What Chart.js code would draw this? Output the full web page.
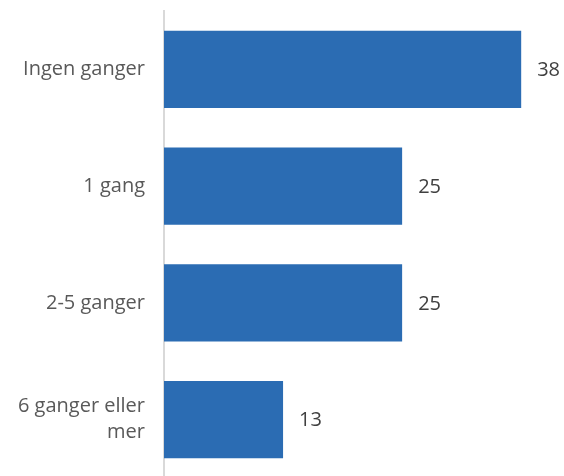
<!DOCTYPE html>
<html>
<head>
<meta charset="utf-8">
<script src="https://cdn.jsdelivr.net/npm/chart.js@4.4.0/dist/chart.umd.min.js"></script>
<style>
  html, body { margin: 0; padding: 0; background: #ffffff; overflow: hidden; }
  #wrap { width: 564px; height: 476px; overflow: hidden; }
</style>
</head>
<body>
<div id="wrap"><canvas id="c" width="564" height="478"></canvas></div>
<script>
// categories and values (shares in percent, labels are rounded)
const categories = ["Ingen ganger", "1 gang", "2-5 ganger", ["6 ganger eller", "mer"]];
const values = [37.5, 25, 25, 12.5];
const valueLabels = ["38", "25", "25", "13"];

const BAR_COLOR = "#2B6CB3";

// draws the number at the end of each bar
const valueLabelPlugin = {
  id: "valueLabels",
  afterDatasetsDraw: (chart) => {
    const ctx = chart.ctx;
    const meta = chart.getDatasetMeta(0);
    ctx.save();
    ctx.font = "20px 'Open Sans', sans-serif";
    ctx.fillStyle = "#404040";
    ctx.textAlign = "left";
    ctx.textBaseline = "middle";
    meta.data.forEach((bar, i) => {
      ctx.fillText(valueLabels[i], bar.x + 16, bar.y + 1);
    });
    ctx.restore();
  },
};

new Chart(document.getElementById("c"), {
  type: "bar",
  data: {
    labels: categories,
    datasets: [
      {
        data: values,
        backgroundColor: BAR_COLOR,
        borderWidth: 0,
        categoryPercentage: 0.66,
        barPercentage: 1,
      },
    ],
  },
  plugins: [valueLabelPlugin],
  options: {
    indexAxis: "y",
    responsive: false,
    animation: false,
    layout: {
      padding: { top: 11, left: 0, right: 19, bottom: 0 },
    },
    plugins: {
      legend: { display: false },
      tooltip: { enabled: false },
    },
    scales: {
      x: {
        display: false,
        min: 0,
        max: 40,
      },
      y: {
        afterFit: (scale) => {
          scale.width = 164;
          scale.paddingTop = 0;
          scale.paddingBottom = 0;
        },
        grid: { display: false, drawTicks: false },
        border: { display: true, color: "#d9d9d9", width: 2 },
        ticks: {
          padding: 19,
          color: "#595959",
          font: { family: "'Open Sans', sans-serif", size: 20, lineHeight: 1.3 },
        },
      },
    },
  },
});
</script>
</body>
</html>
